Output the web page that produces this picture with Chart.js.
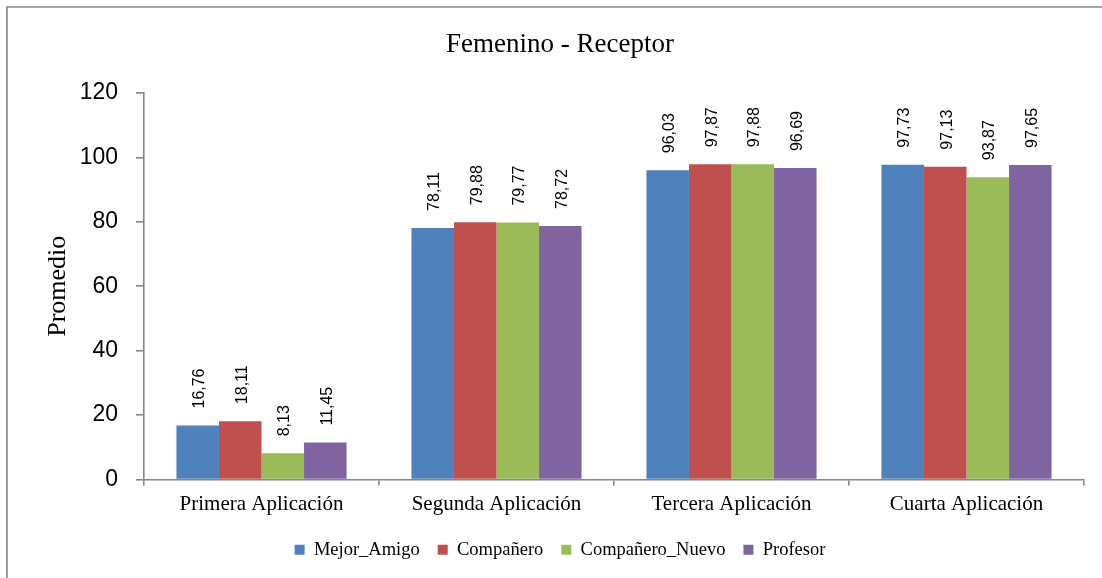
<!DOCTYPE html>
<html>
<head>
<meta charset="utf-8">
<script src="https://cdn.jsdelivr.net/npm/chart.js@4.4.1/dist/chart.umd.min.js"></script>
<style>
    html, body { margin: 0; padding: 0; background: #fff; }
    #wrap { width: 1102px; height: 578px; position: relative; }
</style>
</head>
<body>
<div id="wrap"><canvas id="myChart" width="1102" height="578"></canvas></div>
<script>
(function () {
    "use strict";

    const categories = ['Primera Aplicación', 'Segunda Aplicación', 'Tercera Aplicación', 'Cuarta Aplicación'];
    const mejorAmigo = [16.76, 78.11, 96.03, 97.73];
    const companero = [18.11, 79.88, 97.87, 97.13];
    const companeroNuevo = [8.13, 79.77, 97.88, 93.87];
    const profesor = [11.45, 78.72, 96.69, 97.65];
    const yTicks = [0, 20, 40, 60, 80, 100, 120];

    const axisColor = '#868686';
    const serif = '"Liberation Serif", "Times New Roman", serif';
    const sans = '"Liberation Sans", Arial, sans-serif';

    // Frame around the whole chart (only left/top edges fall inside the canvas)
    const framePlugin = {
        id: 'frame',
        beforeDraw(chart) {
            const ctx = chart.ctx;
            ctx.save();
            ctx.strokeStyle = axisColor;
            ctx.lineWidth = 1.6;
            ctx.beginPath();
            ctx.moveTo(7, chart.height + 5);
            ctx.lineTo(7, 7);
            ctx.lineTo(chart.width + 5, 7);
            ctx.stroke();
            ctx.restore();
        }
    };

    // Vertical value labels above each bar
    const valueLabels = {
        id: 'valueLabels',
        afterDatasetsDraw(chart) {
            const ctx = chart.ctx;
            ctx.save();
            ctx.font = '16px ' + sans;
            ctx.fillStyle = '#000';
            ctx.textAlign = 'left';
            ctx.textBaseline = 'middle';
            chart.data.datasets.forEach((ds, i) => {
                chart.getDatasetMeta(i).data.forEach((bar, j) => {
                    const txt = ds.data[j].toFixed(2).replace('.', ',');
                    ctx.save();
                    ctx.translate(bar.x + 2, bar.y - 17);
                    ctx.rotate(-Math.PI / 2);
                    ctx.fillText(txt, 0, 0);
                    ctx.restore();
                });
            });
            ctx.restore();
        }
    };

    function initChart() {
        const ctx = document.getElementById('myChart').getContext('2d');
        new Chart(ctx, {
            type: 'bar',
            data: {
                labels: categories,
                datasets: [
                    { label: 'Mejor_Amigo', data: mejorAmigo, backgroundColor: '#4F81BD' },
                    { label: 'Compañero', data: companero, backgroundColor: '#C0504D' },
                    { label: 'Compañero_Nuevo', data: companeroNuevo, backgroundColor: '#9BBB59' },
                    { label: 'Profesor', data: profesor, backgroundColor: '#8064A2' }
                ]
            },
            options: {
                responsive: false,
                animation: false,
                layout: { padding: { left: 36, right: 18, top: 0, bottom: 9 } },
                datasets: {
                    bar: { categoryPercentage: 0.724, barPercentage: 1.0, borderWidth: 0 }
                },
                scales: {
                    x: {
                        offset: true,
                        grid: {
                            offset: true,
                            drawOnChartArea: false,
                            drawTicks: true,
                            tickLength: 6,
                            color: axisColor,
                            lineWidth: 1.6
                        },
                        border: { color: axisColor, width: 1.6 },
                        ticks: {
                            color: '#000',
                            padding: 6,
                            maxRotation: 0,
                            font: { family: serif, size: 21 }
                        },
                        afterFit(scale) { scale.height = 43; }
                    },
                    y: {
                        min: 0,
                        max: 120,
                        afterBuildTicks(scale) { scale.ticks = yTicks.map(v => ({ value: v })); },
                        grid: {
                            drawOnChartArea: false,
                            drawTicks: true,
                            tickLength: 8,
                            color: axisColor,
                            lineWidth: 1.6
                        },
                        border: { color: axisColor, width: 1.6 },
                        ticks: {
                            color: '#000',
                            padding: 18,
                            font: { family: sans, size: 23 }
                        },
                        title: {
                            display: true,
                            text: 'Promedio',
                            color: '#000',
                            padding: { top: 7, bottom: 0 },
                            font: { family: serif, size: 26 }
                        },
                        afterFit(scale) { scale.width = 108; }
                    }
                },
                plugins: {
                    title: {
                        display: true,
                        text: 'Femenino - Receptor',
                        color: '#000',
                        padding: { top: 29, bottom: 31.6 },
                        font: { family: serif, size: 27, weight: 'normal' }
                    },
                    legend: {
                        position: 'bottom',
                        labels: {
                            color: '#000',
                            boxWidth: 10,
                            boxHeight: 10,
                            padding: 18,
                            font: { family: serif, size: 18.5 }
                        }
                    },
                    tooltip: { enabled: false }
                }
            },
            plugins: [framePlugin, valueLabels]
        });
    }

    document.addEventListener('DOMContentLoaded', initChart);
})();
</script>
</body>
</html>
